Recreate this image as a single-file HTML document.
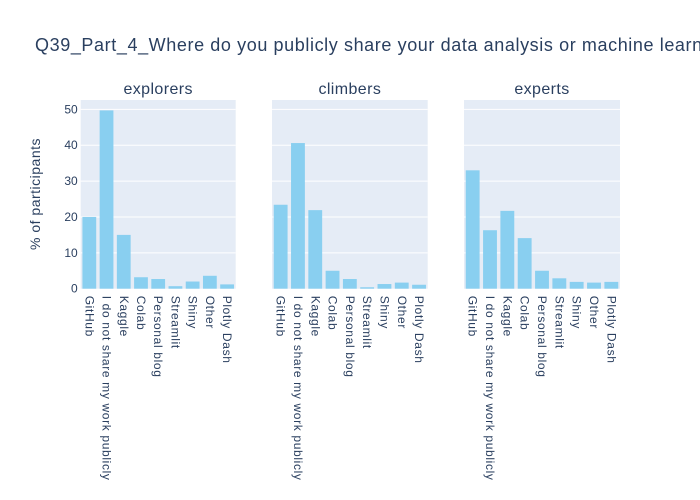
<!DOCTYPE html>
<html><head><meta charset="utf-8"><style>
body{margin:0;background:#fff;}
svg{display:block;font-family:"Liberation Sans",sans-serif;}
</style></head><body>
<svg id="c" width="700" height="500"></svg>
<script>
const categories=["GitHub","I do not share my work publicly","Kaggle","Colab","Personal blog","Streamlit","Shiny","Other","Plotly Dash"];
const panelTitles=["explorers","climbers","experts"];
const explorersVals=[20,49.7,15,3.2,2.7,0.7,2,3.6,1.2];
const climbersVals=[23.4,40.6,21.9,5,2.7,0.4,1.3,1.7,1.1];
const expertsVals=[33,16.3,21.7,14.1,5,2.9,1.9,1.7,1.9];
const yTicks=[0,10,20,30,40,50];
const NS="http://www.w3.org/2000/svg";
const svg=document.getElementById('c');
function mk(t,a,p){const e=document.createElementNS(NS,t);for(const k in a)e.setAttribute(k,a[k]);(p||svg).appendChild(e);return e;}
const plotTop=100,plotBot=288.7,yMax=52.6;
const yScale=v=>plotBot-(v/yMax)*(plotBot-plotTop);
const panels=[[80.7,235.7],[272,427.7],[464,620]];
const series=[explorersVals,climbersVals,expertsVals];
const t=mk('text',{x:35,y:51,'font-size':18,fill:'#2a3f5f','letter-spacing':'0.6'});
t.textContent="Q39_Part_4_Where do you publicly share your data analysis or machine learning applications?";


const yt=mk('text',{x:0,y:0,'font-size':14,fill:'#2a3f5f','text-anchor':'middle','letter-spacing':'0.5',transform:'translate(40,194) rotate(-90)'});
yt.textContent="% of participants";


panels.forEach((p,i)=>{
  const [x0,x1]=p;
  const g=mk('g',{});
  
  
  mk('rect',{x:x0,y:plotTop,width:x1-x0,height:plotBot-plotTop,fill:'#e5ecf6'},g);
  yTicks.forEach(v=>{
    if(v>0){const l=mk('line',{x1:x0,x2:x1,y1:yScale(v),y2:yScale(v),stroke:'#fff','stroke-width':1},g);
    
    }
    if(i===0){const tx=mk('text',{x:x0-3,y:yScale(v)+4,'font-size':12,fill:'#2a3f5f','text-anchor':'end'},g);
    tx.textContent=v;
    
    }
  });
  const st=mk('text',{x:(x0+x1)/2,y:94,'font-size':16,fill:'#2a3f5f','text-anchor':'middle','letter-spacing':'0.4'},g);
  st.textContent=panelTitles[i];
  
  
  const n=categories.length,bw=(x1-x0)/n;
  series[i].forEach((v,j)=>{
    const bx=x0+j*bw+bw*0.1;
    const r=mk('rect',{x:bx,y:yScale(v),width:bw*0.8,height:plotBot-yScale(v),fill:'#89cff0'},g);
    
    
    const cx=x0+(j+0.5)*bw;
    const lb=mk('text',{x:0,y:0,'font-size':12,fill:'#2a3f5f','letter-spacing':'0.65',transform:`translate(${cx-4},${plotBot+7}) rotate(90)`},g);
    lb.textContent=categories[j];
    
    
  });
});
</script>
</body></html>
